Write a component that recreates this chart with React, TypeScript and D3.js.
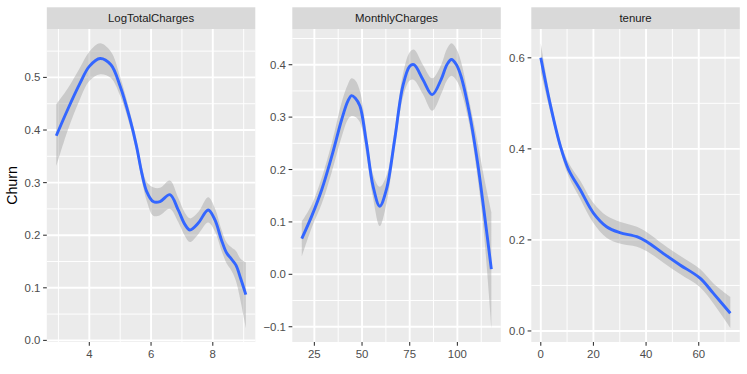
import React from "react";
import * as d3 from "d3";

// ---- Data ----
const LTC_X = [2.93, 3.3, 3.7, 4.0, 4.35, 4.7, 5.0, 5.32, 5.53, 5.7, 5.86, 6.07, 6.29, 6.61, 6.88, 7.1, 7.26, 7.53, 7.85, 8.07, 8.28, 8.45, 8.6, 8.75, 8.9, 9.07];
const LTC_FIT = [0.389, 0.439, 0.489, 0.521, 0.536, 0.524, 0.483, 0.42, 0.369, 0.318, 0.283, 0.264, 0.264, 0.277, 0.248, 0.22, 0.21, 0.223, 0.248, 0.229, 0.191, 0.166, 0.155, 0.143, 0.118, 0.087];
const LTC_LO = [0.331, 0.399, 0.459, 0.493, 0.506, 0.499, 0.465, 0.407, 0.357, 0.305, 0.265, 0.237, 0.238, 0.25, 0.225, 0.198, 0.187, 0.202, 0.224, 0.207, 0.171, 0.146, 0.133, 0.113, 0.075, 0.024];
const LTC_HI = [0.449, 0.479, 0.519, 0.549, 0.565, 0.549, 0.501, 0.433, 0.381, 0.331, 0.301, 0.291, 0.29, 0.304, 0.271, 0.242, 0.232, 0.244, 0.272, 0.251, 0.211, 0.186, 0.177, 0.17, 0.155, 0.148];
const LTC_XTICKS = [4, 6, 8];
const LTC_YTICKS = [0, 0.1, 0.2, 0.3, 0.4, 0.5];

const MC_X = [18.4, 23.6, 28.9, 34.1, 39.3, 42.5, 44.5, 46.5, 48.9, 52.3, 55.8, 59.3, 62.8, 67.1, 71.4, 75, 77.2, 81.9, 86.8, 91.5, 94.5, 96.9, 99.5, 101.9, 106.3, 110.6, 114, 117.8];
const MC_FIT = [0.068, 0.111, 0.162, 0.225, 0.295, 0.33, 0.341, 0.336, 0.321, 0.251, 0.168, 0.13, 0.162, 0.257, 0.359, 0.397, 0.4, 0.372, 0.343, 0.372, 0.4, 0.41, 0.4, 0.378, 0.308, 0.213, 0.12, 0.01];
const MC_LO = [0.034, 0.089, 0.135, 0.195, 0.262, 0.295, 0.302, 0.3, 0.29, 0.228, 0.145, 0.092, 0.135, 0.238, 0.337, 0.37, 0.371, 0.344, 0.312, 0.344, 0.37, 0.379, 0.37, 0.35, 0.286, 0.185, 0.075, -0.102];
const MC_HI = [0.101, 0.133, 0.185, 0.25, 0.328, 0.362, 0.374, 0.37, 0.35, 0.273, 0.19, 0.167, 0.188, 0.276, 0.381, 0.424, 0.429, 0.4, 0.374, 0.4, 0.43, 0.441, 0.43, 0.406, 0.33, 0.252, 0.185, 0.119];
const MC_XTICKS = [25, 50, 75, 100];
const MC_YTICKS = [-0.1, 0, 0.1, 0.2, 0.3, 0.4];

const TEN_X = [0, 3.7, 7.5, 10.6, 15, 20, 25, 30, 36.5, 40.3, 46.6, 52.9, 60.5, 65.5, 72];
const TEN_FIT = [0.6, 0.495, 0.405, 0.354, 0.31, 0.259, 0.229, 0.216, 0.207, 0.196, 0.17, 0.145, 0.116, 0.083, 0.039];
const TEN_LO = [0.568, 0.48, 0.395, 0.339, 0.29, 0.237, 0.205, 0.192, 0.185, 0.175, 0.15, 0.125, 0.096, 0.061, 0.007];
const TEN_HI = [0.632, 0.51, 0.415, 0.369, 0.33, 0.281, 0.253, 0.24, 0.229, 0.217, 0.19, 0.165, 0.136, 0.105, 0.075];
const TEN_XTICKS = [0, 20, 40, 60];
const TEN_YTICKS = [0, 0.2, 0.4, 0.6];

const FACETS = ["LogTotalCharges", "MonthlyCharges", "tenure"];

// ---- Layout / style ----
const W = 747;
const H = 374;
const PANEL_TOP = 29;
const PANEL_BOTTOM = 342;
const STRIP_TOP = 7.3;
const PANEL_LEFTS = [46.8, 292.3, 531.3];
const PANEL_W = 208.5;
const FONT = "'Liberation Sans', Arial, Helvetica, sans-serif";
const AXIS_FS = 11.4;

function fmt(v: number) {
  const s = v.toFixed(1);
  return v < 0 ? "\u2212" + s.slice(1) : s;
}

function minorBreaks(major: number[], lo: number, hi: number) {
  const step = major[1] - major[0];
  const out: number[] = [];
  for (let v = major[0] - step / 2; v <= hi + 1e-9; v += step) {
    if (v >= lo - 1e-9) out.push(v);
  }
  return out;
}

type PanelProps = {
  name: string;
  left: number;
  xs: number[];
  fit: number[];
  lo: number[];
  hi: number[];
  xTicks: number[];
  yTicks: number[];
};

function Panel({ name, left, xs, fit, lo, hi, xTicks, yTicks }: PanelProps) {
  const right = left + PANEL_W;
  const [x0, x1] = d3.extent(xs) as [number, number];
  const y0 = d3.min(lo) as number;
  const y1 = d3.max(hi) as number;
  const xp = (x1 - x0) * 0.05;
  const yp = (y1 - y0) * 0.05;
  const xScale = d3.scaleLinear().domain([x0 - xp, x1 + xp]).range([left, right]);
  const yScale = d3.scaleLinear().domain([y0 - yp, y1 + yp]).range([PANEL_BOTTOM, PANEL_TOP]);
  const xDom = xScale.domain();
  const yDom = yScale.domain();
  const xMinor = minorBreaks(xTicks, xDom[0], xDom[1]);
  const yMinor = minorBreaks(yTicks, yDom[0], yDom[1]);

  const idx = xs.map((_, i) => i);
  const curve = d3.curveCatmullRom.alpha(0.5);
  const area = d3
    .area<number>()
    .x((i) => xScale(xs[i]))
    .y0((i) => yScale(lo[i]))
    .y1((i) => yScale(hi[i]))
    .curve(curve);
  const line = d3
    .line<number>()
    .x((i) => xScale(xs[i]))
    .y((i) => yScale(fit[i]))
    .curve(curve);

  return (
    <g>
      <rect x={left} y={PANEL_TOP} width={PANEL_W} height={PANEL_BOTTOM - PANEL_TOP} fill="#EBEBEB" />
      {xMinor.map((v) => (
        <line key={"xm" + v} x1={xScale(v)} x2={xScale(v)} y1={PANEL_TOP} y2={PANEL_BOTTOM} stroke="#FFFFFF" strokeWidth={0.95} />
      ))}
      {yMinor.map((v) => (
        <line key={"ym" + v} x1={left} x2={right} y1={yScale(v)} y2={yScale(v)} stroke="#FFFFFF" strokeWidth={0.95} />
      ))}
      {xTicks.map((v) => (
        <line key={"xM" + v} x1={xScale(v)} x2={xScale(v)} y1={PANEL_TOP} y2={PANEL_BOTTOM} stroke="#FFFFFF" strokeWidth={1.9} />
      ))}
      {yTicks.map((v) => (
        <line key={"yM" + v} x1={left} x2={right} y1={yScale(v)} y2={yScale(v)} stroke="#FFFFFF" strokeWidth={1.9} />
      ))}
      <path d={area(idx) || ""} fill="#999999" fillOpacity={0.4} />
      <path d={line(idx) || ""} fill="none" stroke="#3366FF" strokeWidth={2.9} strokeLinejoin="round" strokeLinecap="butt" />
      {/* strip */}
      <rect x={left} y={STRIP_TOP} width={PANEL_W} height={PANEL_TOP - STRIP_TOP} fill="#D9D9D9" />
      <text x={left + PANEL_W / 2} y={18.2} textAnchor="middle" dominantBaseline="central" fontSize={AXIS_FS} fill="#1A1A1A" fontFamily={FONT}>
        {name}
      </text>
      {/* x axis */}
      {xTicks.map((v) => (
        <g key={"xt" + v}>
          <line x1={xScale(v)} x2={xScale(v)} y1={PANEL_BOTTOM} y2={PANEL_BOTTOM + 3.7} stroke="#333333" strokeWidth={1.07} />
          <text x={xScale(v)} y={357.6} textAnchor="middle" fontSize={AXIS_FS} fill="#4D4D4D" fontFamily={FONT}>
            {String(v)}
          </text>
        </g>
      ))}
      {/* y axis */}
      {yTicks.map((v) => (
        <g key={"yt" + v}>
          <line x1={left - 3.7} x2={left} y1={yScale(v)} y2={yScale(v)} stroke="#333333" strokeWidth={1.07} />
          <text x={left - 6.4} y={yScale(v)} textAnchor="end" dominantBaseline="central" fontSize={AXIS_FS} fill="#4D4D4D" fontFamily={FONT}>
            {fmt(v)}
          </text>
        </g>
      ))}
    </g>
  );
}

export default function App() {
  const panels = [
    { xs: LTC_X, fit: LTC_FIT, lo: LTC_LO, hi: LTC_HI, xTicks: LTC_XTICKS, yTicks: LTC_YTICKS },
    { xs: MC_X, fit: MC_FIT, lo: MC_LO, hi: MC_HI, xTicks: MC_XTICKS, yTicks: MC_YTICKS },
    { xs: TEN_X, fit: TEN_FIT, lo: TEN_LO, hi: TEN_HI, xTicks: TEN_XTICKS, yTicks: TEN_YTICKS },
  ];
  return (
    <div style={{ position: "fixed", left: 0, top: 0 }}>
      <svg width={W} height={H} style={{ display: "block", background: "#FFFFFF" }}>
        <rect x={0} y={0} width={W} height={H} fill="#FFFFFF" />
        {panels.map((p, i) => (
          <Panel key={FACETS[i]} name={FACETS[i]} left={PANEL_LEFTS[i]} {...p} />
        ))}
        <text
          transform={`translate(17.3, ${(PANEL_TOP + PANEL_BOTTOM) / 2}) rotate(-90)`}
          textAnchor="middle"
          fontSize={14.2}
          fill="#000000"
          fontFamily={FONT}
        >
          Churn
        </text>
      </svg>
    </div>
  );
}
